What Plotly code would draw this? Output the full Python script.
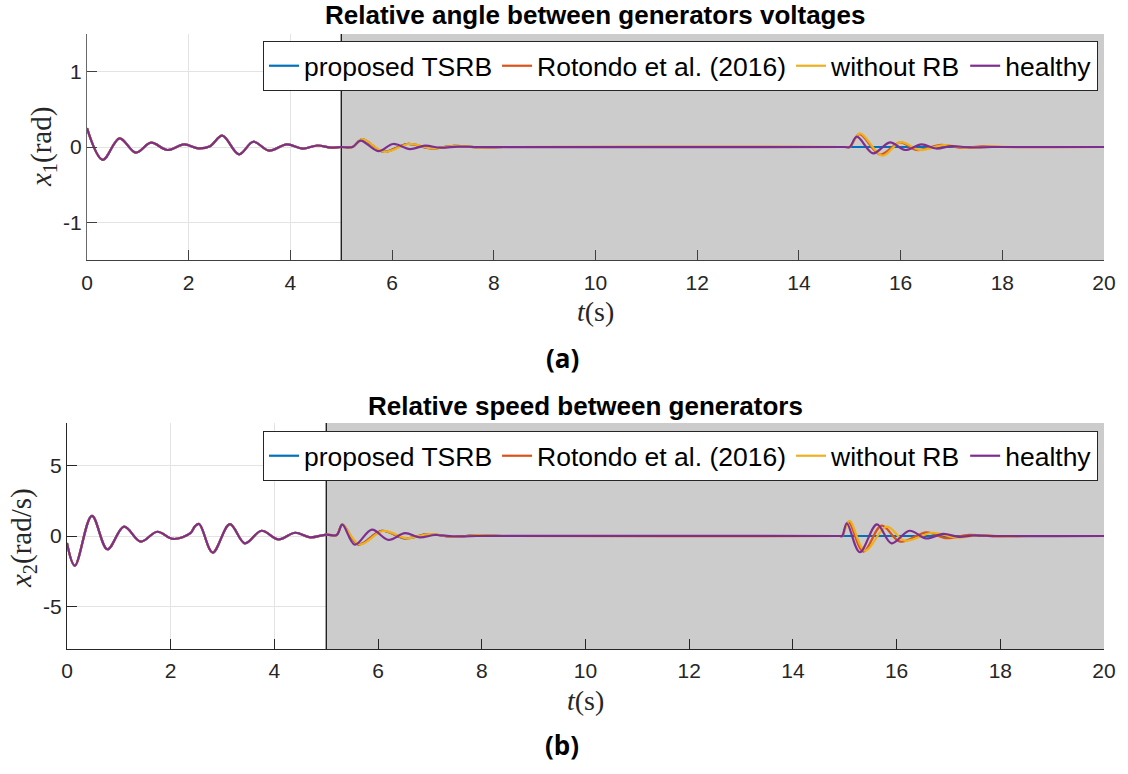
import plotly.graph_objects as go

# ---------------- data ----------------
SERIES = ["proposed TSRB", "Rotondo et al. (2016)", "without RB", "healthy"]
COLORS = ["#0072BD", "#D95319", "#EDB120", "#7E2F8E"]

X_TICKS = [0, 2, 4, 6, 8, 10, 12, 14, 16, 18, 20]
X_TICKTEXT = ["0", "2", "4", "6", "8", "10", "12", "14", "16", "18", "20"]
Y1_TICKS = [-1, 0, 1]
Y1_TICKTEXT = ["-1", "0", "1"]
Y2_TICKS = [-5, 0, 5]
Y2_TICKTEXT = ["-5", "0", "5"]

RB_START = 5.0   # start of the shaded interval
T_END = 20.0

# --- x1: relative angle (rad); common part, identical for all series ---
t1_common = [0.0, 0.31, 0.64, 0.96, 1.26, 1.58, 1.91, 2.19, 2.42, 2.66, 2.99,
             3.27, 3.58, 3.93, 4.24, 4.53, 4.8, 5.0, 5.22]
x1_common = [0.25, -0.17, 0.115, -0.075, 0.057, -0.04, 0.035, -0.018, 0.01, 0.15, -0.097,
             0.07, -0.049, 0.035, -0.022, 0.02, -0.008, 0.0, 0.0]

t1_tsrb = [5.41, 5.83, 6.3, 6.78, 7.22, 7.7, 8.2, 20.0]
x1_tsrb = [0.1, -0.063, 0.04, -0.02, 0.015, -0.006, 0.0, 0.0]

t1_rotondo = [5.41, 5.83, 6.3, 6.78, 7.22, 7.7, 8.2, 14.9, 15.0, 15.19, 15.6, 15.99,
              16.32, 16.8, 17.2, 17.6, 18.0, 20.0]
x1_rotondo = [0.1, -0.063, 0.04, -0.02, 0.015, -0.006, 0.0, 0.0, 0.0, 0.17, -0.1, 0.062,
              -0.04, 0.027, -0.012, 0.008, 0.0, 0.0]

t1_norb = [5.41, 5.85, 6.33, 6.8, 7.24, 7.7, 8.2, 14.9, 15.0, 15.2, 15.64, 16.0,
           16.38, 16.85, 17.3, 17.8, 18.3, 20.0]
x1_norb = [0.105, -0.065, 0.04, -0.02, 0.015, -0.006, 0.0, 0.0, 0.0, 0.18, -0.115, 0.065,
           -0.04, 0.025, -0.012, 0.006, 0.0, 0.0]

t1_healthy = [5.38, 5.73, 6.02, 6.35, 6.65, 6.95, 7.3, 7.7, 14.9, 15.0, 15.14, 15.46,
              15.79, 16.09, 16.41, 16.7, 17.0, 17.35, 17.8, 20.0]
x1_healthy = [0.085, -0.055, 0.04, -0.027, 0.017, -0.01, 0.005, 0.0, 0.0, 0.0, 0.137, -0.084,
              0.062, -0.04, 0.035, -0.02, 0.012, -0.006, 0.0, 0.0]

# --- x2: relative speed (rad/s) ---
t2_common = [0.0, 0.15, 0.48, 0.78, 1.1, 1.42, 1.74, 2.05, 2.38, 2.47, 2.55, 2.81,
             3.14, 3.43, 3.75, 4.08, 4.4, 4.69, 5.0, 5.2]
x2_common = [-0.5, -2.1, 1.43, -0.94, 0.66, -0.4, 0.3, -0.21, 0.2, 0.7, 0.85, -1.17,
             0.84, -0.52, 0.37, -0.24, 0.23, -0.1, 0.1, 0.07]

t2_tsrb = [5.31, 5.62, 6.07, 6.52, 6.97, 7.42, 7.85, 8.4, 20.0]
x2_tsrb = [0.8, -0.6, 0.37, -0.17, 0.14, -0.07, 0.04, 0.0, 0.0]

t2_rotondo = [5.31, 5.62, 6.07, 6.52, 6.97, 7.42, 7.85, 8.4, 14.9, 14.95, 15.07, 15.36,
              15.71, 16.07, 16.58, 16.95, 17.4, 17.9, 18.4, 20.0]
x2_rotondo = [0.8, -0.6, 0.37, -0.17, 0.14, -0.07, 0.04, 0.0, 0.0, 0.0, 1.0, -1.1,
              0.73, -0.4, 0.26, -0.15, 0.08, -0.03, 0.0, 0.0]

t2_norb = [5.31, 5.64, 6.1, 6.55, 7.0, 7.45, 7.9, 8.4, 14.9, 14.95, 15.09, 15.39,
           15.81, 16.16, 16.7, 17.15, 17.6, 18.1, 18.6, 20.0]
x2_norb = [0.8, -0.6, 0.36, -0.16, 0.14, -0.07, 0.04, 0.0, 0.0, 0.0, 1.08, -1.03,
           0.66, -0.33, 0.23, -0.12, 0.06, -0.03, 0.0, 0.0]

t2_healthy = [5.31, 5.55, 5.88, 6.2, 6.52, 6.8, 7.1, 7.45, 7.9, 14.9, 14.95, 15.04,
              15.29, 15.62, 15.9, 16.25, 16.57, 16.9, 17.2, 17.5, 17.9, 20.0]
x2_healthy = [0.8, -0.62, 0.45, -0.28, 0.2, -0.1, 0.07, -0.03, 0.0, 0.0, 0.0, 0.9,
              -1.15, 0.82, -0.52, 0.37, -0.17, 0.15, -0.06, 0.04, 0.0, 0.0]

# ---------------- figure ----------------
W, H = 1128, 774


def px_x(p):
    return p / W


def px_y(p):
    return 1 - p / H


fig = go.Figure()

top_parts = [(t1_tsrb, x1_tsrb), (t1_rotondo, x1_rotondo), (t1_norb, x1_norb), (t1_healthy, x1_healthy)]
bot_parts = [(t2_tsrb, x2_tsrb), (t2_rotondo, x2_rotondo), (t2_norb, x2_norb), (t2_healthy, x2_healthy)]

for name, col, (tt, xx) in zip(SERIES, COLORS, top_parts):
    fig.add_trace(go.Scatter(
        x=t1_common + tt, y=x1_common + xx, mode="lines", name=name,
        line=dict(color=col, width=2.2, shape="spline", smoothing=1.0),
        xaxis="x", yaxis="y", legend="legend", showlegend=True, hoverinfo="skip"))

for name, col, (tt, xx) in zip(SERIES, COLORS, bot_parts):
    fig.add_trace(go.Scatter(
        x=t2_common + tt, y=x2_common + xx, mode="lines", name=name,
        line=dict(color=col, width=2.2, shape="spline", smoothing=1.0),
        xaxis="x2", yaxis="y2", legend="legend2", showlegend=True, hoverinfo="skip"))

tick_font = dict(family="Liberation Sans, Arial, sans-serif", size=21, color="#262626")
axis_common = dict(showgrid=True, gridcolor="#e3e3e3", gridwidth=1, zeroline=False,
                   showline=True, ticks="inside", ticklen=10, tickwidth=1,
                   tickfont=tick_font, mirror=False, automargin=False)

legend_font = dict(family="Liberation Sans, Arial, sans-serif", size=26.5, color="black")

fig.update_layout(
    width=W, height=H, margin=dict(l=0, r=0, t=0, b=0, autoexpand=False),
    paper_bgcolor="white", plot_bgcolor="white",
    xaxis=dict(domain=[px_x(87), px_x(1104)], range=[0, T_END], anchor="y",
               tickvals=X_TICKS, ticktext=X_TICKTEXT, linecolor="#404040", tickcolor="#404040",
               ticklabelstandoff=4, **axis_common),
    yaxis=dict(domain=[px_y(260), px_y(34)], range=[-1.5, 1.5], anchor="x",
               tickvals=Y1_TICKS, ticktext=Y1_TICKTEXT, linecolor="#6a6a6a", tickcolor="#404040",
               **axis_common),
    xaxis2=dict(domain=[px_x(67), px_x(1104)], range=[0, T_END], anchor="y2",
                tickvals=X_TICKS, ticktext=X_TICKTEXT, linecolor="#262626", tickcolor="#262626",
                ticklabelstandoff=3, **axis_common),
    yaxis2=dict(domain=[px_y(649), px_y(423)], range=[-8, 8], anchor="x2",
                tickvals=Y2_TICKS, ticktext=Y2_TICKTEXT, linecolor="#262626", tickcolor="#262626",
                **axis_common),
    legend=dict(orientation="h", x=px_x(1098), xanchor="right", y=px_y(41), yanchor="top",
                bgcolor="white", bordercolor="#262626", borderwidth=1, font=legend_font,
                itemwidth=30, tracegroupgap=0),
    legend2=dict(orientation="h", x=px_x(1098), xanchor="right", y=px_y(431), yanchor="top",
                 bgcolor="white", bordercolor="#262626", borderwidth=1, font=legend_font,
                 itemwidth=30, tracegroupgap=0),
)

# shaded interval + its black left edge
for xa, ya, ylo, yhi in [("x", "y", -1.5, 1.5), ("x2", "y2", -8, 8)]:
    fig.add_shape(type="rect", xref=xa, yref=ya, x0=RB_START, x1=T_END, y0=ylo, y1=yhi,
                  fillcolor="#cccccc", line=dict(width=0), layer="between")
    fig.add_shape(type="line", xref=xa, yref=ya, x0=RB_START, x1=RB_START, y0=ylo, y1=yhi,
                  line=dict(color="black", width=1.2), layer="between")

title_font = dict(family="Liberation Sans, Arial, sans-serif", size=26, color="black")
serif = "Liberation Serif, DejaVu Serif, serif"
annos = [
    dict(text="<b>Relative angle between generators voltages</b>", x=px_x(595), y=px_y(15), font=title_font),
    dict(text="<b>Relative speed between generators</b>", x=px_x(586), y=px_y(406), font=title_font),
    dict(text="<i>t</i>(s)", x=px_x(595), y=px_y(311), font=dict(family=serif, size=28, color="#262626")),
    dict(text="<i>t</i>(s)", x=px_x(586), y=px_y(700), font=dict(family=serif, size=28, color="#262626")),
    dict(text="<i>x</i><sub>1</sub>(rad)", x=px_x(43), y=px_y(147), textangle=-90,
         font=dict(family=serif, size=29, color="#262626")),
    dict(text="<i>x</i><sub>2</sub>(rad/s)", x=px_x(23), y=px_y(538), textangle=-90,
         font=dict(family=serif, size=29, color="#262626")),
    dict(text="<b>(a)</b>", x=px_x(562), y=px_y(358), font=dict(family="Open Sans, sans-serif", size=26, color="black")),
    dict(text="<b>(b)</b>", x=px_x(562), y=px_y(745), font=dict(family="Open Sans, sans-serif", size=26, color="black")),
]
for a in annos:
    fig.add_annotation(xref="paper", yref="paper", showarrow=False, xanchor="center", yanchor="middle", **a)

fig.write_html("out.html")
